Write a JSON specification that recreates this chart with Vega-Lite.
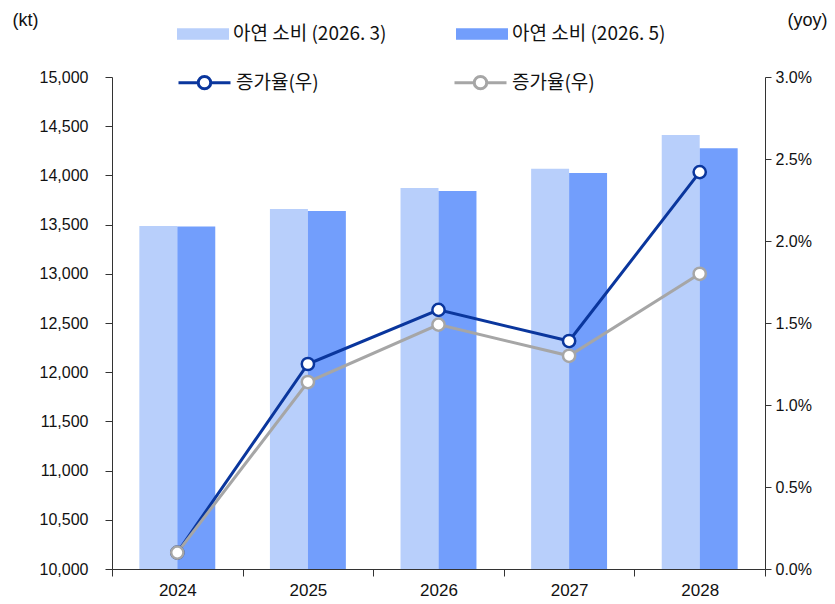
{
  "$schema": "https://vega.github.io/schema/vega-lite/v6.json",
  "autosize": "none",
  "width": 653,
  "height": 492,
  "padding": {"left": 112, "top": 77, "right": 70, "bottom": 35},
  "background": "white",
  "config": {
    "font": "Liberation Sans, Noto Sans CJK KR",
    "view": {"stroke": null},
    "axis": {"labelFont": "Liberation Sans", "labelFontSize": 16, "labelColor": "#111", "domainColor": "#333", "tickColor": "#333", "grid": false, "titleFont": "Liberation Sans", "titleFontSize": 18, "titleFontWeight": "normal", "titleColor": "#111"},
    "legend": {"labelFont": "Noto Sans CJK KR", "labelFontSize": 19, "labelColor": "#111"}
  },
  "datasets": {
    "bars": [
      {"year": "2024", "series": "아연 소비 (2026. 3)", "v": 13486},
      {"year": "2024", "series": "아연 소비 (2026. 5)", "v": 13480},
      {"year": "2025", "series": "아연 소비 (2026. 3)", "v": 13659},
      {"year": "2025", "series": "아연 소비 (2026. 5)", "v": 13638},
      {"year": "2026", "series": "아연 소비 (2026. 3)", "v": 13872},
      {"year": "2026", "series": "아연 소비 (2026. 5)", "v": 13841},
      {"year": "2027", "series": "아연 소비 (2026. 3)", "v": 14068},
      {"year": "2027", "series": "아연 소비 (2026. 5)", "v": 14024},
      {"year": "2028", "series": "아연 소비 (2026. 3)", "v": 14411},
      {"year": "2028", "series": "아연 소비 (2026. 5)", "v": 14276}
    ],
    "lines": [
      {"year": "2024", "series": "증가율(우) A", "v": 0.001},
      {"year": "2025", "series": "증가율(우) A", "v": 0.0125},
      {"year": "2026", "series": "증가율(우) A", "v": 0.0158},
      {"year": "2027", "series": "증가율(우) A", "v": 0.0139},
      {"year": "2028", "series": "증가율(우) A", "v": 0.0242},
      {"year": "2024", "series": "증가율(우) B", "v": 0.001},
      {"year": "2025", "series": "증가율(우) B", "v": 0.0114},
      {"year": "2026", "series": "증가율(우) B", "v": 0.0149},
      {"year": "2027", "series": "증가율(우) B", "v": 0.0130},
      {"year": "2028", "series": "증가율(우) B", "v": 0.0180}
    ]
  },
  "layer": [
    {
      "data": {"name": "bars"},
      "mark": {"type": "bar", "clip": true},
      "encoding": {
        "x": {"field": "year", "type": "nominal", "scale": {"paddingInner": 0, "paddingOuter": 0},
          "axis": {"title": null, "labelAngle": 0, "tickBand": "extent", "tickSize": 7, "labelPadding": 6, "labelFontSize": 17, "domainWidth": 1.2}},
        "xOffset": {"field": "series", "type": "nominal", "scale": {"paddingInner": 0, "paddingOuter": 0.72}},
        "y": {"field": "v", "type": "quantitative", "scale": {"domain": [10000, 15000], "nice": false, "zero": false},
          "axis": {"values": [10000, 10500, 11000, 11500, 12000, 12500, 13000, 13500, 14000, 14500, 15000], "format": ",.0f", "tickSize": 7, "labelPadding": 17,
            "title": "(kt)", "titleAngle": 0, "titleAlign": "left", "titleBaseline": "middle", "titleX": -100, "titleY": -57}},
        "fill": {"field": "series", "type": "nominal",
          "scale": {"domain": ["아연 소비 (2026. 3)", "아연 소비 (2026. 5)"], "range": ["#B8CFFB", "#729EFC"]},
          "legend": {"title": null, "orient": "none", "legendX": 65, "legendY": -69, "direction": "horizontal", "columns": 2, "columnPadding": 69,
            "symbolType": "M-1,-0.22H1V0.22H-1Z", "symbolSize": 2704, "symbolStrokeWidth": 0, "labelOffset": 4}}
      }
    },
    {
      "data": {"name": "lines"},
      "encoding": {
        "x": {"field": "year", "type": "nominal"},
        "y": {"field": "v", "type": "quantitative", "scale": {"domain": [0, 0.03], "nice": false},
          "axis": {"orient": "right", "values": [0, 0.005, 0.01, 0.015, 0.02, 0.025, 0.03], "format": ".1%", "tickSize": 6, "labelPadding": 4,
            "title": "(yoy)", "titleAngle": 0, "titleAlign": "left", "titleBaseline": "middle", "titleX": 22, "titleY": -57}},
        "stroke": {"field": "series", "type": "nominal",
          "scale": {"domain": ["증가율(우) A", "증가율(우) B"], "range": ["#0A369D", "#A6A6A6"]},
          "legend": {"title": null, "orient": "none", "legendX": 65, "legendY": -22, "direction": "horizontal", "columns": 2, "columnPadding": 129,
            "labelExpr": "'증가율(우)'",
            "symbolType": "M-1,0H-0.24M0.24,0H1M-0.24,0A0.24,0.24 0 1,1 0.24,0A0.24,0.24 0 1,1 -0.24,0Z", "symbolSize": 2704, "symbolStrokeWidth": 3, "symbolFillColor": "white", "labelOffset": 4}}
      },
      "layer": [
        {"mark": {"type": "line", "strokeWidth": 3}},
        {"mark": {"type": "point", "filled": true, "fill": "white", "opacity": 1, "size": 150, "strokeWidth": 2.5}}
      ]
    }
  ],
  "resolve": {"scale": {"y": "independent"}}
}
